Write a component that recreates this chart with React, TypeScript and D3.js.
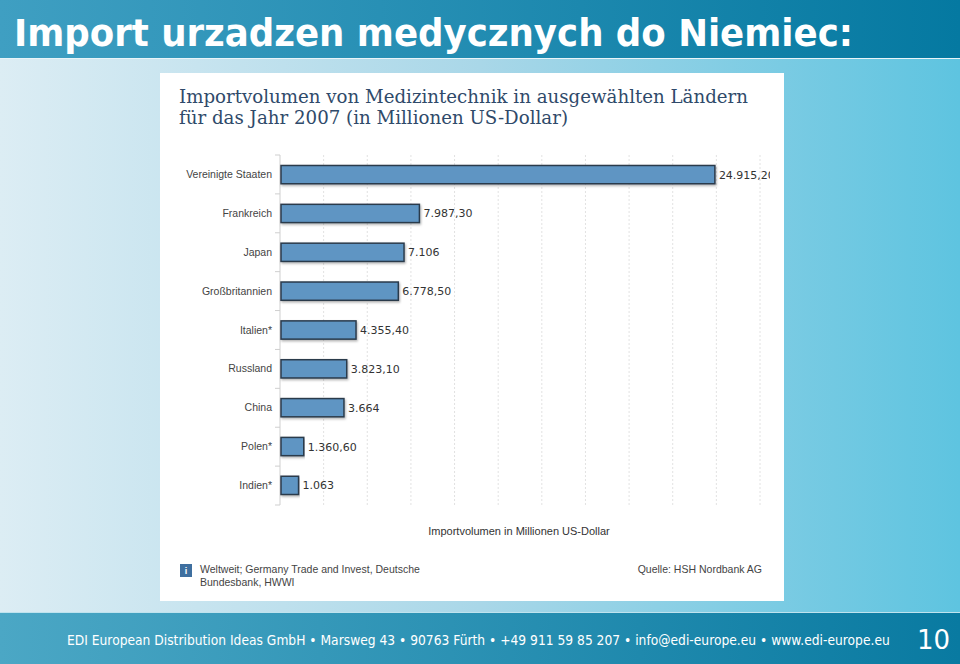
import React, { useLayoutEffect, useRef, useState } from "react";
import * as d3 from "d3";

const countries = ["Vereinigte Staaten", "Frankreich", "Japan", "Großbritannien", "Italien*", "Russland", "China", "Polen*", "Indien*"];
const values = [24915.2, 7987.3, 7106, 6778.5, 4355.4, 3823.1, 3664, 1360.6, 1063];
const valueLabels = ["24.915,20", "7.987,30", "7.106", "6.778,50", "4.355,40", "3.823,10", "3.664", "1.360,60", "1.063"];
const gridTicks = d3.range(0, 27501, 2500);
const footerText = "EDI European Distribution Ideas GmbH • Marsweg 43 • 90763 Fürth • +49 911 59 85 207 • info@edi-europe.eu • www.edi-europe.eu";

export default function App() {
  const W = 960, H = 664;
  const x = d3.scaleLinear().domain([0, 27500]).range([280, 760]);
  const y = d3.scaleBand().domain(countries).range([155, 505]).paddingInner(0.53).paddingOuter(0.27);
  const bandStep = (505 - 155) / countries.length;
  const tickYs = d3.range(countries.length + 1).map((i) => 155 + i * bandStep);

  const footRef = useRef<SVGTextElement>(null);
  const [footScale, setFootScale] = useState(0.85);
  useLayoutEffect(() => {
    if (footRef.current) {
      const len = footRef.current.getComputedTextLength();
      if (len > 0) setFootScale(823 / len);
    }
  }, []);

  return (
    <svg width={W} height={H} style={{ position: "absolute", left: 0, top: 0 }}>
      <defs>
        <linearGradient id="top" x1="0" x2="1">
          <stop offset="0" stopColor="#3f9fc2" />
          <stop offset="1" stopColor="#0579a1" />
        </linearGradient>
        <linearGradient id="mid" x1="0" x2="1">
          <stop offset="0" stopColor="#dcedf4" />
          <stop offset="0.5" stopColor="#a9d7e8" />
          <stop offset="1" stopColor="#5ec4e0" />
        </linearGradient>
        <linearGradient id="foot" x1="0" x2="1">
          <stop offset="0" stopColor="#4ba7c5" />
          <stop offset="1" stopColor="#097aa1" />
        </linearGradient>
        <filter id="sh" x="-5%" y="-20%" width="110%" height="160%">
          <feDropShadow dx="1" dy="1.5" stdDeviation="0.8" floodColor="#000" floodOpacity="0.3" />
        </filter>
      </defs>
      <rect x={0} y={0} width={W} height={H} fill="url(#mid)" />
      <rect x={0} y={0} width={W} height={58} fill="url(#top)" />
      <rect x={0} y={58} width={W} height={1} fill="#e8f4f8" />
      <text x={14} y={46} fill="#fff" fontFamily="'DejaVu Sans Condensed', 'DejaVu Sans'" fontWeight="bold" fontSize={37} textLength={839} lengthAdjust="spacingAndGlyphs">
        Import urzadzen medycznych do Niemiec:
      </text>

      {/* chart panel */}
      <rect x={160} y={73} width={624} height={528} fill="#ffffff" />
      <text x={179} y={103} fill="#2f4a6a" fontFamily="'DejaVu Serif', serif" fontSize={18} textLength={569} lengthAdjust="spacingAndGlyphs">
        Importvolumen von Medizintechnik in ausgewählten Ländern
      </text>
      <text x={179} y={124} fill="#2f4a6a" fontFamily="'DejaVu Serif', serif" fontSize={18} textLength={389} lengthAdjust="spacingAndGlyphs">
        für das Jahr 2007 (in Millionen US-Dollar)
      </text>

      {gridTicks.slice(1).map((t) => (
        <line key={t} x1={x(t)} x2={x(t)} y1={155} y2={505} stroke="#e2e2e2" strokeDasharray="2,2" />
      ))}
      <line x1={280} x2={280} y1={155} y2={505} stroke="#cfcfcf" />
      {tickYs.map((ty, i) => (
        <line key={i} x1={275} x2={280} y1={ty} y2={ty} stroke="#cfcfcf" />
      ))}

      {countries.map((c, i) => (
        <g key={c}>
          <rect
            x={x(0) + 1}
            y={y(c)!}
            width={x(values[i]) - x(0) - 1}
            height={y.bandwidth()}
            fill="#5f95c3"
            stroke="#2b3b4c"
            strokeWidth={1.5}
            filter="url(#sh)"
          />
          <text x={272} y={y(c)! + y.bandwidth() / 2 + 3.5} textAnchor="end" fontFamily="Arial, 'Liberation Sans', sans-serif" fontSize={10.5} fill="#444">
            {c}
          </text>
          <text x={x(values[i]) + 4} y={y(c)! + y.bandwidth() / 2 + 4} fontFamily="Verdana, 'DejaVu Sans', sans-serif" fontSize={11} fill="#333">
            {valueLabels[i]}
          </text>
        </g>
      ))}
      {/* clip label overflow at panel right */}
      <rect x={770} y={150} width={14} height={40} fill="#fff" />

      <text x={519} y={535} textAnchor="middle" fontFamily="Arial, 'Liberation Sans', sans-serif" fontSize={11} fill="#333">
        Importvolumen in Millionen US-Dollar
      </text>

      <rect x={180} y={564} width={12} height={13} fill="#3f6f9f" />
      <text x={186} y={574} textAnchor="middle" fontFamily="Arial, 'Liberation Sans', sans-serif" fontSize={9} fontWeight="bold" fill="#fff">i</text>
      <text x={200} y={573} fontFamily="Arial, 'Liberation Sans', sans-serif" fontSize={10.5} fill="#444">
        Weltweit; Germany Trade and Invest, Deutsche
      </text>
      <text x={200} y={586} fontFamily="Arial, 'Liberation Sans', sans-serif" fontSize={10.5} fill="#444">
        Bundesbank, HWWI
      </text>
      <text x={762} y={573} textAnchor="end" fontFamily="Arial, 'Liberation Sans', sans-serif" fontSize={10.5} fill="#444">
        Quelle: HSH Nordbank AG
      </text>

      {/* footer */}
      <rect x={0} y={612} width={W} height={52} fill="url(#foot)" />
      <rect x={0} y={612} width={W} height={1} fill="#bfe3ee" />
      <g transform={`translate(67,645) scale(${footScale},1)`}>
        <text ref={footRef} x={0} y={0} fill="#fff" fontFamily="Verdana, 'DejaVu Sans', sans-serif" fontSize={14}>
          {footerText}
        </text>
      </g>
      <text x={950} y={649} textAnchor="end" fill="#fff" fontFamily="Verdana, 'DejaVu Sans', sans-serif" fontSize={26}>
        10
      </text>
    </svg>
  );
}
